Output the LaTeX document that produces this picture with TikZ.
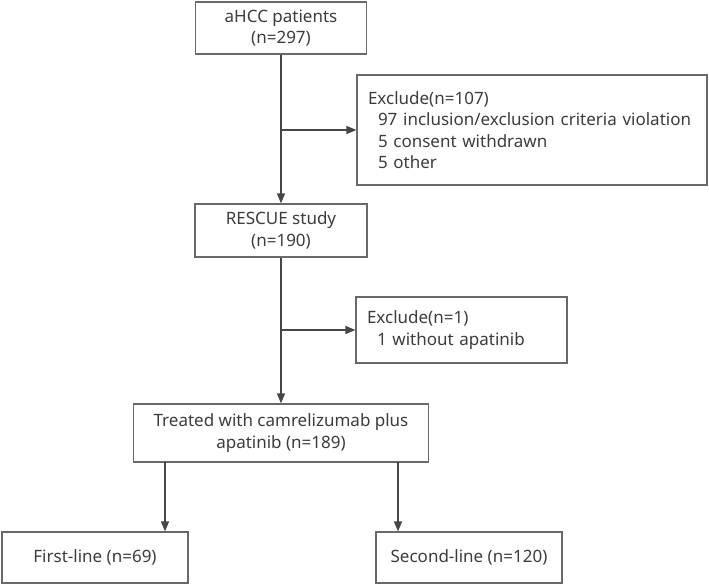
\documentclass[tikz,border=0pt]{standalone}
\usepackage{fontspec}
\setmainfont{Noto Sans}
\usetikzlibrary{arrows.meta,positioning}
\definecolor{boxgrey}{RGB}{105,105,105}
\definecolor{linegrey}{RGB}{70,70,70}
\definecolor{txtgrey}{RGB}{60,60,60}

\begin{document}
\begin{tikzpicture}[x=1pt, y=-1pt,
    flowbox/.style={rectangle, draw=boxgrey, line width=1.2pt, text=txtgrey,
        font=\fontsize{17}{21.5}\selectfont, align=center, inner sep=0pt},
    exclbox/.style={flowbox, align=left, inner xsep=11pt},
    arr/.style={-{Triangle[length=10pt, width=8pt]}, line width=1.3pt, linegrey}
]
    \useasboundingbox (0,0) rectangle (709,584);

    \node[flowbox, minimum width=171pt, minimum height=52pt] (pat) at (281,28) {aHCC patients\\(n=297)};
    \node[exclbox, text width=328pt, minimum height=110pt] (ex1) at (532,130)
        {Exclude(n=107)\\\hspace*{10pt}97 inclusion/exclusion criteria violation\\\hspace*{10pt}5 consent withdrawn\\\hspace*{10pt}5 other};
    \node[flowbox, minimum width=172pt, minimum height=53pt] (rescue) at (281,230.5) {RESCUE study\\(n=190)};
    \node[exclbox, text width=189pt, minimum height=66pt] (ex2) at (461.5,330)
        {Exclude(n=1)\\\hspace*{10pt}1 without apatinib};
    \node[flowbox, minimum width=295pt, minimum height=58pt] (treat) at (281,433) {Treated with camrelizumab plus\\apatinib (n=189)};
    \node[flowbox, minimum width=186pt, minimum height=51pt] (first) at (95,557.5) {First-line (n=69)};
    \node[flowbox, minimum width=186pt, minimum height=51pt] (second) at (469,557.5) {Second-line (n=120)};

    \coordinate (b1) at (281,130);
    \coordinate (b2) at (281,330);
    \coordinate (s1) at (165,462);
    \coordinate (s2) at (398,462);

    \draw[arr] (pat) -- (rescue);
    \draw[arr] (b1) -- (ex1.west);
    \draw[arr] (rescue) -- (treat);
    \draw[arr] (b2) -- (ex2.west);
    \draw[arr] (s1) -- (s1 |- first.north);
    \draw[arr] (s2) -- (s2 |- second.north);
\end{tikzpicture}
\end{document}
